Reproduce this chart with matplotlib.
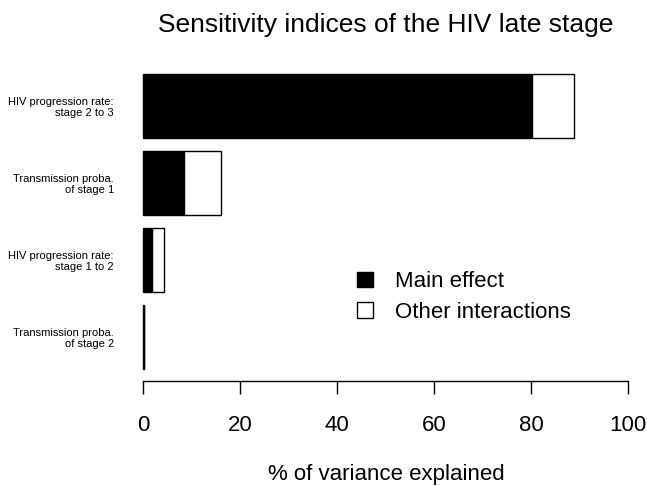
import matplotlib
matplotlib.use("Agg")
import matplotlib.pyplot as plt
from matplotlib.patches import Patch

plt.rcParams['font.family'] = ['Liberation Sans', 'DejaVu Sans']

# Data (top to bottom as displayed)
categories = ["HIV progression rate:\nstage 2 to 3",
              "Transmission proba.\nof stage 1",
              "HIV progression rate:\nstage 1 to 2",
              "Transmission proba.\nof stage 2"]
main_effect = [80.3, 8.45, 1.9, 0.2]
other_interactions = [8.6, 7.55, 2.35, 0.1]
xticks = [0, 20, 40, 60, 80, 100]

W, H = 647, 486
fig = plt.figure(figsize=(W / 100, H / 100), dpi=100)
# plot region in pixels (R style)
left, right = 123.6, 647.4
top, bottom = 62.2, 380.8
ax = fig.add_axes([left / W, 1 - bottom / H, (right - left) / W, (bottom - top) / H])

n = len(categories)
centers = [0.7 + 1.2 * (n - 1 - i) for i in range(n)]
ax.barh(centers, main_effect, height=1.0, color='black', edgecolor='black', linewidth=1.0)
ax.barh(centers, other_interactions, left=main_effect, height=1.0, color='white',
        edgecolor='black', linewidth=1.0)

ax.set_xlim(-4, 104)
ax.set_ylim(0.016, 4.984)

for s in ['top', 'right', 'left']:
    ax.spines[s].set_visible(False)
ax.spines['bottom'].set_bounds(0, 100)
ax.spines['bottom'].set_linewidth(1.0)
ax.set_xticks(xticks)
ax.set_xticklabels([str(t) for t in xticks])
ax.tick_params(axis='x', direction='out', length=9.5, width=1.0, pad=15, labelsize=16)

ax.set_yticks(centers)
ax.set_yticklabels(categories, fontsize=8, ha='right', linespacing=1.15)
ax.tick_params(axis='y', length=0, pad=7)

fig.text(386 / W, 1 - 474 / H, "% of variance explained", ha='center', va='center', fontsize=16)
fig.text(386 / W, 1 - 25 / H, "Sensitivity indices of the HIV late stage", ha='center',
         va='center', fontsize=19)

handles = [Patch(facecolor='black', edgecolor='black', linewidth=1.0),
           Patch(facecolor='white', edgecolor='black', linewidth=1.0)]
ax.legend(handles, ["Main effect", "Other interactions"], loc='center left',
          bbox_to_anchor=(357 / W, 1 - 297 / H), bbox_transform=fig.transFigure,
          frameon=False, fontsize=16, handlelength=0.72, handleheight=0.72,
          handletextpad=1.0, labelspacing=0.42, borderpad=0, borderaxespad=0)

fig.savefig("out.png", dpi=100)
